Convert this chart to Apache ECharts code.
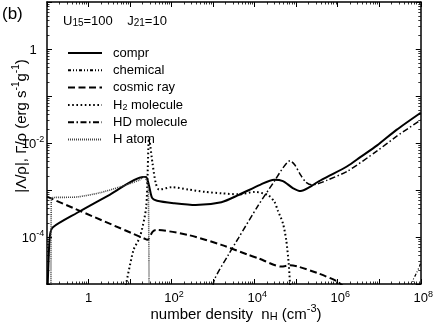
<!DOCTYPE html>
<html><head><meta charset="utf-8">
<script src="https://cdn.jsdelivr.net/npm/echarts@6/dist/echarts.min.js"></script>
<style>html,body{margin:0;padding:0;background:#fff}#c{width:436px;height:322px}</style>
</head><body><div id="c"></div>
<script>
// number density n_H (cm^-3) vs |Λ/ρ|, Γ/ρ (erg s^-1 g^-1)
const comprData = [
  [0.1, 3.2e-6], [0.109, 3.2e-5], [0.118, 1.1e-4], [0.139, 1.62e-4], [0.52, 3.24e-4],
  [3.3, 8.0e-4], [20.7, 1.9e-3], [24.4, 1.9e-3], [28.7, 1.23e-3], [33.9, 6.8e-4],
  [44.7, 5.9e-4], [112, 5.25e-4], [380, 4.8e-4], [1580, 5.5e-4], [4070, 7.8e-4],
  [1.35e4, 1.29e-3], [2.95e4, 1.66e-3], [4.8e4, 1.55e-3], [8.3e4, 1.1e-3], [1.29e5, 9.5e-4],
  [2.1e5, 1.15e-3], [3.3e5, 1.48e-3], [5.6e5, 1.9e-3], [1.7e6, 3.2e-3], [3.5e6, 5.0e-3],
  [8.9e6, 8.9e-3], [2.6e7, 1.9e-2], [1e8, 4.4e-2]
];
const chemicalData = [
  [5.75e7, 5e-6], [6.6e7, 1.23e-5], [7.9e7, 1.7e-5], [9.5e7, 2.5e-5], [1e8, 2.8e-5]
];
const cosmicRayData = [
  [0.1, 7.2e-4], [24.5, 8.9e-5], [26.3, 8.7e-5], [34.7, 1.29e-4], [41.7, 1.41e-4],
  [257, 1.1e-4], [1580, 6.8e-5], [6900, 4.2e-5], [1.2e4, 3.55e-5], [4.4e4, 2.35e-5],
  [7.1e4, 2.5e-5], [1.1e5, 2.35e-5], [3.3e5, 1.7e-5], [1e6, 1.12e-5], [1.58e6, 7.9e-6]
];
const h2Data = [
  [6.9, 5e-6], [12.0, 5.2e-5], [17.4, 1.02e-4], [24.5, 4.4e-4], [28.8, 1.26e-2],
  [34.7, 3.7e-3], [41.7, 1.38e-3], [50.1, 1.02e-3], [102, 1.15e-3], [257, 1.02e-3],
  [646, 9.1e-4], [1620, 8.5e-4], [4070, 8.1e-4], [1e4, 9.1e-4], [2.1e4, 7.8e-4],
  [3.0e4, 5.6e-4], [3.6e4, 3.7e-4], [4.8e4, 1.95e-4], [5.75e4, 8.7e-5], [6.6e4, 2.75e-5],
  [7.2e4, 7.9e-6]
];
const hdData = [
  [912, 5.0e-6], [1070, 1.23e-5], [2340, 4.2e-5], [4070, 9.5e-5], [1.2e4, 4.6e-4],
  [3.1e4, 1.62e-3], [4.8e4, 2.95e-3], [7.1e4, 4.2e-3], [9.3e4, 3.4e-3], [1.23e5, 2.2e-3],
  [1.7e5, 1.48e-3], [2.35e5, 1.29e-3], [3.3e5, 1.35e-3], [5.6e5, 1.62e-3], [1.7e6, 2.5e-3],
  [8.9e6, 6.8e-3], [2.6e7, 1.38e-2], [1e8, 3.1e-2]
];
const hAtomData = [
  [0.1245, 3.2e-6], [0.1274, 6.8e-4], [0.525, 7.1e-4], [1.84, 8.7e-4], [5.5, 1.15e-3],
  [16.6, 1.62e-3], [21.9, 1.9e-3], [25.1, 1.58e-3], [27.5, 1.0e-3], [28.8, 3.2e-6]
];
const seriesNames = ['compr', 'chemical', 'cosmic ray', 'H2 molecule', 'HD molecule', 'H atom'];
const xLabelExponents = [0, 2, 4, 6, 8];
const yLabelExponents = [0, -2, -4];
const xDecades = [0.1, 1, 10, 100, 1e3, 1e4, 1e5, 1e6, 1e7];
const yDecades = [1e-5, 1e-4, 1e-3, 1e-2, 0.1, 1];
const minorMultipliers = [2, 3, 4, 5, 6, 7, 8, 9];
const xMinorTicks = [].concat(...xDecades.map(d => minorMultipliers.map(m => +(m * d).toPrecision(3))));
const yMinorTicks = [].concat(...yDecades.map(d => minorMultipliers.map(m => +(m * d).toPrecision(3))));

const FONT = 'Liberation Sans, Arial, sans-serif';
const rich = {
  b: {fontSize: 13, fontFamily: FONT, color: '#000', verticalAlign: 'bottom', lineHeight: 15},
  s: {fontSize: 9, fontFamily: FONT, color: '#000', verticalAlign: 'top', lineHeight: 9},
  p: {width: 5}
};
function xFmt(v) {
  const e = Math.round(Math.log10(v));
  if (xLabelExponents.indexOf(e) < 0) return '';
  return e === 0 ? '{b|1}' : '{p|}{b|10}{s|' + e + '}';
}
function yFmt(v) {
  const e = Math.round(Math.log10(v));
  if (yLabelExponents.indexOf(e) < 0) return '';
  return e === 0 ? '{b|1}' : '{b|10}{s|' + e + '}';
}
const axisLineStyle = {color: '#000', width: 1.5};
function mkX(pos, showLabel, minor) {
  return {
    type: 'log', logBase: 10, min: 0.1, max: 1e8, splitNumber: 9, position: pos,
    axisLine: {show: !minor, onZero: false, lineStyle: axisLineStyle},
    axisTick: minor
      ? {show: true, inside: true, length: 2.5, customValues: xMinorTicks, lineStyle: {color: '#000', width: 0.8}}
      : {show: true, inside: true, length: 5, lineStyle: {color: '#000', width: 1}},
    splitLine: {show: false},
    axisLabel: {show: showLabel, formatter: xFmt, rich: rich, margin: 6, showMinLabel: true, showMaxLabel: true}
  };
}
function mkY(pos, showLabel, minor) {
  return {
    type: 'log', logBase: 10, min: 1e-5, max: 10, splitNumber: 6, position: pos,
    axisLine: {show: !minor, onZero: false, lineStyle: axisLineStyle},
    axisTick: minor
      ? {show: true, inside: true, length: 2.5, customValues: yMinorTicks, lineStyle: {color: '#000', width: 0.8}}
      : {show: true, inside: true, length: 5, lineStyle: {color: '#000', width: 1}},
    splitLine: {show: false},
    axisLabel: {show: showLabel, formatter: yFmt, rich: rich, margin: 14, align: 'center', showMinLabel: true, showMaxLabel: true}
  };
}
const styles = {
  'compr': {type: 'solid', width: 2},
  'chemical': {type: [3, 2, 1, 2, 1, 2], width: 1.2},
  'cosmic ray': {type: [7, 3.5], width: 2},
  'H2 molecule': {type: [1.6, 2.6], width: 2},
  'HD molecule': {type: [6, 2.5, 1.5, 2.5], width: 1.5},
  'H atom': {type: [1, 1], width: 1.6, color: '#444'}
};
const dataMap = {
  'compr': comprData, 'chemical': chemicalData, 'cosmic ray': cosmicRayData,
  'H2 molecule': h2Data, 'HD molecule': hdData, 'H atom': hAtomData
};
const series = seriesNames.map(n => ({
  name: n, type: 'line', data: dataMap[n], symbol: 'none', smooth: 0.25,
  xAxisIndex: 0, yAxisIndex: 0, clip: true,
  lineStyle: Object.assign({color: '#000', cap: 'butt'}, styles[n]),
  itemStyle: {color: styles[n].color || '#000'}
}));

const chart = echarts.init(document.getElementById('c'), null, {renderer: 'canvas'});
chart.setOption({
  animation: false,
  backgroundColor: '#fff',
  grid: {left: 47, right: 12, top: 2, bottom: 38, containLabel: false},
  xAxis: [mkX('bottom', true, false), mkX('top', false, false), mkX('bottom', false, true), mkX('top', false, true)],
  yAxis: [mkY('left', true, false), mkY('right', false, false), mkY('left', false, true), mkY('right', false, true)],
  legend: {
    orient: 'vertical', left: 62, top: 41, itemWidth: 34, itemHeight: 14, itemGap: 3.3,
    data: seriesNames,
    itemStyle: {opacity: 0, color: 'rgba(0,0,0,0)', borderWidth: 0},
    textStyle: {fontSize: 13, fontFamily: FONT, color: '#000', lineHeight: 14, padding: [0, 0, 0, 6],
      rich: {
        t: {fontSize: 13, fontFamily: FONT, color: '#000', verticalAlign: 'bottom', lineHeight: 14},
        u: {fontSize: 9, fontFamily: FONT, color: '#000', verticalAlign: 'bottom', lineHeight: 12}
      }},
    formatter: n => n === 'H2 molecule' ? '{t|H}{u|2}{t| molecule}' : n,
    selectedMode: false
  },
  graphic: [
    {type: 'text', left: 2, top: 6, style: {text: '(b)', font: '17px ' + FONT, fill: '#000'}},
    {type: 'text', left: 63, top: 15, style: {
      text: '{t|U}{u|15}{t|=100    J}{u|21}{t|=10}',
      rich: {
        t: {fontSize: 13, fontFamily: FONT, fill: '#000', verticalAlign: 'bottom', lineHeight: 16},
        u: {fontSize: 10, fontFamily: FONT, fill: '#000', verticalAlign: 'bottom', lineHeight: 14}
      }}},
    {type: 'text', x: 20, y: 126, rotation: Math.PI / 2, style: {
      text: '{t||Λ/ρ|, Γ/ρ (erg s}{s|-1}{t|g}{s|-1}{t|)}', align: 'center', verticalAlign: 'middle',
      rich: {
        t: {fontSize: 15, fontFamily: FONT, fill: '#000', verticalAlign: 'bottom', lineHeight: 18},
        s: {fontSize: 10, fontFamily: FONT, fill: '#000', verticalAlign: 'top', lineHeight: 10}
      }}},
    {type: 'text', x: 236, y: 313, style: {
      text: '{t|number density  n}{u|H}{t| (cm}{s|-3}{t|)}', align: 'center', verticalAlign: 'middle',
      rich: {
        t: {fontSize: 15, fontFamily: FONT, fill: '#000', verticalAlign: 'bottom', lineHeight: 19},
        u: {fontSize: 11, fontFamily: FONT, fill: '#000', verticalAlign: 'bottom', lineHeight: 16},
        s: {fontSize: 11, fontFamily: FONT, fill: '#000', verticalAlign: 'top', lineHeight: 11}
      }}}
  ],
  series: series
});
</script></body></html>
